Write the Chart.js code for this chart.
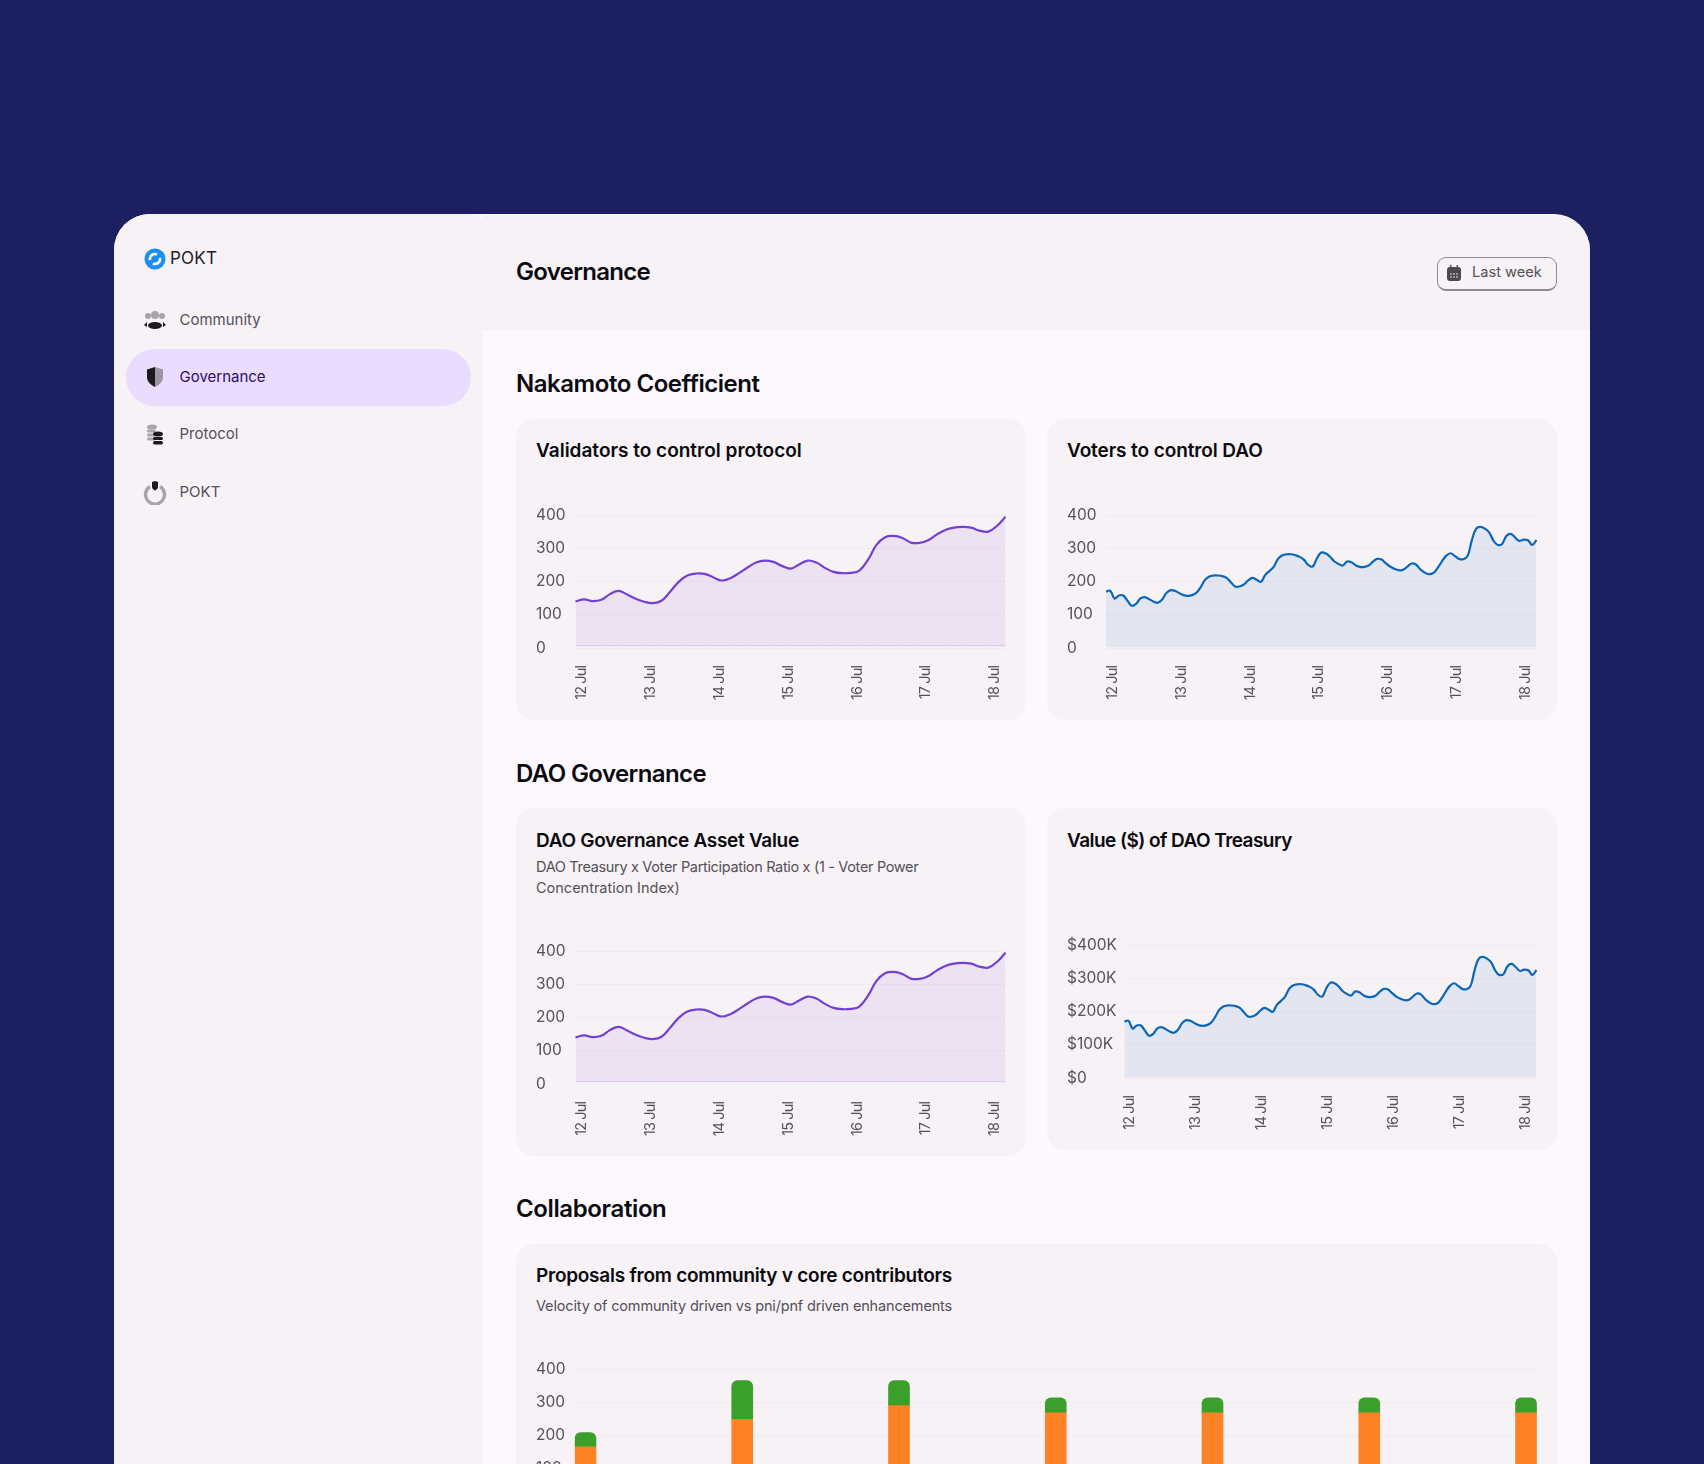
<!DOCTYPE html>
<html lang="en">
<head>
<meta charset="UTF-8">
<title>Governance</title>
<script src="https://cdn.jsdelivr.net/npm/chart.js"></script>
<style>
  html, body { margin: 0; padding: 0; background: #1d2060; }
  body { width: 1704px; height: 1464px; overflow: hidden; position: relative; font-family: Inter, sans-serif; }
  .abs { position: absolute; }
  .panel { left: 114px; top: 214px; width: 1476px; height: 1300px; background: #fcf8fe; border-radius: 36px 36px 0 0; overflow: hidden; }
  .sidebar { left: 114px; top: 214px; width: 369px; height: 1300px; background: #f6f2f5; border-radius: 36px 10px 0 0; }
  .header { left: 483px; top: 215px; width: 1107px; height: 115px; background: #f6f2f5; border-radius: 0 36px 0 0; }
  .txt { position: absolute; white-space: nowrap; transform: translateY(-50%); line-height: 1.2; }
  .h1 { font-size: 24px; font-weight: 600; color: #0b0b0f; }
  .card { position: absolute; background: #f6f2f5; border-radius: 18px; }
  .title { font-size: 19px; font-weight: 600; color: #0b0b0f; }
  .sub { font-size: 14.5px; color: #55505a; font-weight: 400; }
  .nav { font-size: 15px; color: #55505a; }
  .pill { left: 126px; top: 349px; width: 345px; height: 57px; background: #e9dcff; border-radius: 29px; }
  .btn { left: 1437px; top: 256.5px; width: 118px; height: 31px; border: 1px solid #8f8a93; border-bottom-width: 2px; border-radius: 9px; box-sizing: content-box; }
  canvas { position: absolute; }
  svg { position: absolute; }
</style>
</head>
<body>
  <div class="abs panel"></div>
  <div class="abs sidebar"></div>
  <div class="abs header"></div>

  <!-- logo -->
  <svg style="left:144px;top:248px" width="22" height="22" viewBox="0 0 22 22">
    <circle cx="11" cy="11" r="10.5" fill="#1e8ff0"/>
    <path d="M6 12 A5 5 0 0 1 13 6.5 M16 10 A5 5 0 0 1 9 15.5" stroke="#fff" stroke-width="2.6" fill="none"/>
  </svg>
  <div class="txt" style="left:170px;top:258px;font-size:17px;color:#222026;letter-spacing:0.2px;font-weight:400">POKT</div>

  <!-- nav -->
  <div class="abs pill"></div>
  <svg style="left:143px;top:310px" width="24" height="20" viewBox="0 0 24 20">
    <circle cx="12" cy="5" r="4" fill="#a8a4aa"/><circle cx="5" cy="6" r="3" fill="#a8a4aa"/><circle cx="19" cy="6" r="3" fill="#a8a4aa"/>
    <ellipse cx="12" cy="15.5" rx="7" ry="3.5" fill="#1c1a20"/><path d="M1 15l3-3v5zM23 15l-3-3v5z" fill="#1c1a20"/>
  </svg>
  <div class="txt nav" style="left:179.5px;top:319.5px">Community</div>
  <svg style="left:146px;top:367px" width="18" height="20" viewBox="0 0 18 20">
    <path d="M9 0 L1 2.5 V10 C1 15 5 18 9 20 Z" fill="#1c1a20"/><path d="M9 0 L17 2.5 V10 C17 15 13 18 9 20 Z" fill="#9c95a4"/>
  </svg>
  <div class="txt nav" style="left:179.5px;top:377px;color:#2c0e66">Governance</div>
  <svg style="left:146px;top:424px" width="18" height="21" viewBox="0 0 18 21">
    <ellipse cx="6" cy="3" rx="5" ry="2.5" fill="#a8a4aa"/><rect x="1" y="5.5" width="9" height="3" rx="1.5" fill="#a8a4aa"/><rect x="1" y="9.5" width="9" height="3" rx="1.5" fill="#a8a4aa"/><rect x="1" y="13.5" width="9" height="3" rx="1.5" fill="#a8a4aa"/>
    <ellipse cx="12" cy="10" rx="5" ry="2.5" fill="#1c1a20"/><rect x="7" y="13" width="10" height="3" rx="1.5" fill="#1c1a20"/><rect x="7" y="17" width="10" height="3.5" rx="1.7" fill="#1c1a20"/>
  </svg>
  <div class="txt nav" style="left:179.5px;top:434px">Protocol</div>
  <svg style="left:143px;top:480px" width="24" height="25" viewBox="0 0 24 25">
    <path d="M7 6.5 A9.5 9.5 0 1 0 17 6.5" stroke="#a8a4aa" stroke-width="3.4" fill="none"/>
    <path d="M12 1 L9 2 V7 C9 9 11 10 12 10.5 C13 10 15 9 15 7 V2 Z" fill="#1c1a20"/>
  </svg>
  <div class="txt nav" style="left:179.5px;top:492px">POKT</div>

  <!-- header -->
  <div class="txt h1" style="left:516px;top:272px;letter-spacing:-0.7px">Governance</div>
  <div class="abs btn"></div>
  <svg style="left:1447px;top:265px" width="14" height="16" viewBox="0 0 14 16">
    <rect x="0" y="2" width="14" height="14" rx="3" fill="#4c4850"/><rect x="3" y="0" width="1.4" height="4" fill="#4c4850"/><rect x="9.6" y="0" width="1.4" height="4" fill="#4c4850"/>
    <g fill="#f6f2f5"><circle cx="4" cy="9" r="0.8"/><circle cx="7" cy="9" r="0.8"/><circle cx="10" cy="9" r="0.8"/><circle cx="4" cy="12" r="0.8"/><circle cx="7" cy="12" r="0.8"/><circle cx="10" cy="12" r="0.8"/></g>
  </svg>
  <div class="txt" style="left:1472px;top:272.5px;font-size:14.6px;color:#55505a">Last week</div>

  <!-- Nakamoto -->
  <div class="txt h1" style="left:516px;top:384px;letter-spacing:-0.46px">Nakamoto Coefficient</div>
  <div class="card" style="left:516px;top:419px;width:510px;height:301px"></div>
  <div class="card" style="left:1047px;top:419px;width:510px;height:301px"></div>
  <div class="txt title" style="left:536px;top:451px;letter-spacing:0">Validators to control protocol</div>
  <div class="txt title" style="left:1067px;top:451px;letter-spacing:-0.1px">Voters to control DAO</div>
  <canvas id="validatorsChart" style="left:536px;top:505px;width:480px;height:205px"></canvas>
  <canvas id="votersChart" style="left:1067px;top:505px;width:480px;height:205px"></canvas>

  <!-- DAO -->
  <div class="txt h1" style="left:516px;top:774px;letter-spacing:-0.6px">DAO Governance</div>
  <div class="card" style="left:516px;top:808px;width:510px;height:347.5px"></div>
  <div class="card" style="left:1047px;top:808px;width:510px;height:341.5px"></div>
  <div class="txt title" style="left:536px;top:841px;letter-spacing:-0.3px">DAO Governance Asset Value</div>
  <div class="txt sub" style="left:536px;top:867px;letter-spacing:-0.33px">DAO Treasury x Voter Participation Ratio x (1 - Voter Power</div>
  <div class="txt sub" style="left:536px;top:888px;letter-spacing:0">Concentration Index)</div>
  <div class="txt title" style="left:1067px;top:841px;letter-spacing:-0.56px">Value ($) of DAO Treasury</div>
  <canvas id="assetChart" style="left:536px;top:941px;width:480px;height:205px"></canvas>
  <canvas id="treasuryChart" style="left:1067px;top:935px;width:480px;height:205px"></canvas>

  <!-- Collaboration -->
  <div class="txt h1" style="left:516px;top:1209px;letter-spacing:-0.38px">Collaboration</div>
  <div class="card" style="left:516px;top:1244px;width:1041px;height:300px"></div>
  <div class="txt title" style="left:536px;top:1276px;letter-spacing:-0.25px">Proposals from community v core contributors</div>
  <div class="txt sub" style="left:536px;top:1306px;letter-spacing:-0.16px">Velocity of community driven vs pni/pnf driven enhancements</div>
  <canvas id="proposalsChart" style="left:536px;top:1359px;width:1011px;height:205px"></canvas>

<script>
const dayLabels = ['12 Jul', '13 Jul', '14 Jul', '15 Jul', '16 Jul', '17 Jul', '18 Jul'];
const yTicks = [0, 100, 200, 300, 400];

// 8 samples a day
const validatorsValues = [140,146,141,145,162,172,161,148,139,135,142,169,199,218,224,223,213,203,210,225,242,257,263,259,247,239,251,263,257,241,229,225,226,233,265,310,333,337,331,317,316,324,341,355,362,364,362,353,350,367,395];
const assetValues = [140,146,141,145,162,172,161,148,139,135,142,169,199,218,224,223,213,203,210,225,242,257,263,259,247,239,251,263,257,241,229,225,226,233,265,310,333,337,331,317,316,324,341,355,362,364,362,353,350,367,395];

// 16 samples a day
const votersValues = [170,172,149,158,158,142,127,133,149,153,147,140,136,145,165,174,172,165,159,157,159,166,183,205,215,218,218,216,211,198,185,185,191,203,211,205,199,220,232,245,269,279,282,282,279,274,265,250,245,270,287,285,275,261,253,248,260,258,249,244,244,248,260,268,266,255,245,238,234,235,245,254,251,237,227,222,225,240,260,277,285,277,268,267,277,325,359,364,359,348,323,310,313,337,343,333,322,326,324,310,325];
const treasuryValues = [170,172,149,158,158,142,127,133,149,153,147,140,136,145,165,174,172,165,159,157,159,166,183,205,215,218,218,216,211,198,185,185,191,203,211,205,199,220,232,245,269,279,282,282,279,274,265,250,245,270,287,285,275,261,253,248,260,258,249,244,244,248,260,268,266,255,245,238,234,235,245,254,251,237,227,222,225,240,260,277,285,277,268,267,277,325,359,364,359,348,323,310,313,337,343,333,322,326,324,310,325];

const coreValues = [166,249,290,268,268,268,268];
const communityValues = [43,116,75,45,45,45,45];

const tickColor = '#55505a';
const gridColor = '#efebef';
const tickFont = { family: 'Inter', size: 15.5, weight: '400' };

// the date labels sit on a later layer than the datasets, so this only tightens them
const tightLabels = {
    id: 'tightLabels',
    afterDatasetsDraw(chart) { chart.ctx.letterSpacing = '-0.9px'; },
    afterDraw(chart) { chart.ctx.letterSpacing = '0px'; }
};

function yAxis(width, format) {
    return {
        min: 0, max: 400,
        afterBuildTicks: s => { s.ticks = yTicks.map(v => ({ value: v })); },
        afterFit: s => { s.width = width; },
        border: { display: false },
        grid: { color: gridColor, drawTicks: false, lineWidth: 1 },
        ticks: { color: tickColor, font: tickFont, crossAlign: 'far', padding: 0, callback: format || (v => String(v)) }
    };
}

function flatAxisFit(s, h) {
    s.height = h;
    s.paddingLeft = 0;
    s.paddingRight = 0;
}

function areaChart(id, values, perDay, color, fillColor, yWidth, labelOffset, fillBase, rimColor, format) {
    const labels = values.map((v, i) => i % perDay === 0 ? dayLabels[i / perDay] : '');
    const datasets = [{
        data: values,
        borderColor: color,
        borderWidth: 2.2,
        backgroundColor: fillColor,
        fill: { value: fillBase },
        pointRadius: 0,
        tension: 0.4
    }];
    if (rimColor) {
        // thin edge along the bottom of the filled area
        datasets.push({ data: values.map(() => fillBase), borderColor: rimColor, borderWidth: 1, pointRadius: 0, fill: false });
    }
    new Chart(document.getElementById(id), {
        type: 'line',
        data: { labels: labels, datasets: datasets },
        plugins: [tightLabels],
        options: {
            responsive: false,
            animation: false,
            layout: { padding: { top: 10, right: 10.5 } },
            plugins: { legend: { display: false }, tooltip: { enabled: false } },
            scales: {
                x: {
                    afterFit: s => flatAxisFit(s, 62),
                    border: { display: false },
                    grid: { display: false, drawTicks: false },
                    ticks: {
                        autoSkip: false, minRotation: 90, maxRotation: 90, z: 1,
                        color: tickColor, font: { family: 'Inter', size: 14.5, weight: '400' },
                        padding: 18, labelOffset: labelOffset,
                        callback: function (v, i) { return labels[i]; }
                    }
                },
                y: yAxis(yWidth, format)
            }
        }
    });
}

function setSize(id, w, h) {
    const c = document.getElementById(id);
    c.width = w; c.height = h;
}
['validatorsChart', 'votersChart', 'assetChart', 'treasuryChart'].forEach(id => setSize(id, 480, 205));
setSize('proposalsChart', 1011, 205);

const purpleFill = 'rgba(140,60,225,0.085)';
const blueFill = 'rgba(30,90,200,0.085)';
areaChart('validatorsChart', validatorsValues, 8, '#7340d2', purpleFill, 39.5, 6.5, 7, '#ddcdf0');
areaChart('votersChart', votersValues, 16, '#0a66b8', blueFill, 39, 6.5, 2);
areaChart('assetChart', assetValues, 8, '#7340d2', purpleFill, 39.5, 6.5, 7, '#ddcdf0');
areaChart('treasuryChart', treasuryValues, 16, '#0a66b8', blueFill, 57.4, 5.6, 2, null, v => v === 0 ? '$0' : '$' + v + 'K');

new Chart(document.getElementById('proposalsChart'), {
    type: 'bar',
    data: {
        datasets: [
            { data: coreValues.map((v, i) => ({ x: i, y: v })), backgroundColor: '#ff8224', barThickness: 21, stack: 's' },
            { data: communityValues.map((v, i) => ({ x: i, y: v })), backgroundColor: '#3b9f2c', barThickness: 21, stack: 's', borderRadius: { topLeft: 6, topRight: 6 }, borderSkipped: false }
        ]
    },
    options: {
        responsive: false,
        animation: false,
        layout: { padding: { top: 10, right: 10 } },
        plugins: { legend: { display: false }, tooltip: { enabled: false } },
        scales: {
            x: {
                type: 'linear', min: -0.07, max: 6.07, stacked: true, offset: false,
                afterBuildTicks: s => { s.ticks = dayLabels.map((d, i) => ({ value: i })); },
                afterFit: s => flatAxisFit(s, 62),
                border: { display: false },
                grid: { display: false, offset: false },
                ticks: { color: tickColor, font: tickFont, callback: v => dayLabels[v] }
            },
            y: Object.assign(yAxis(38.5), { stacked: true })
        }
    }
});
</script>
</body>
</html>
